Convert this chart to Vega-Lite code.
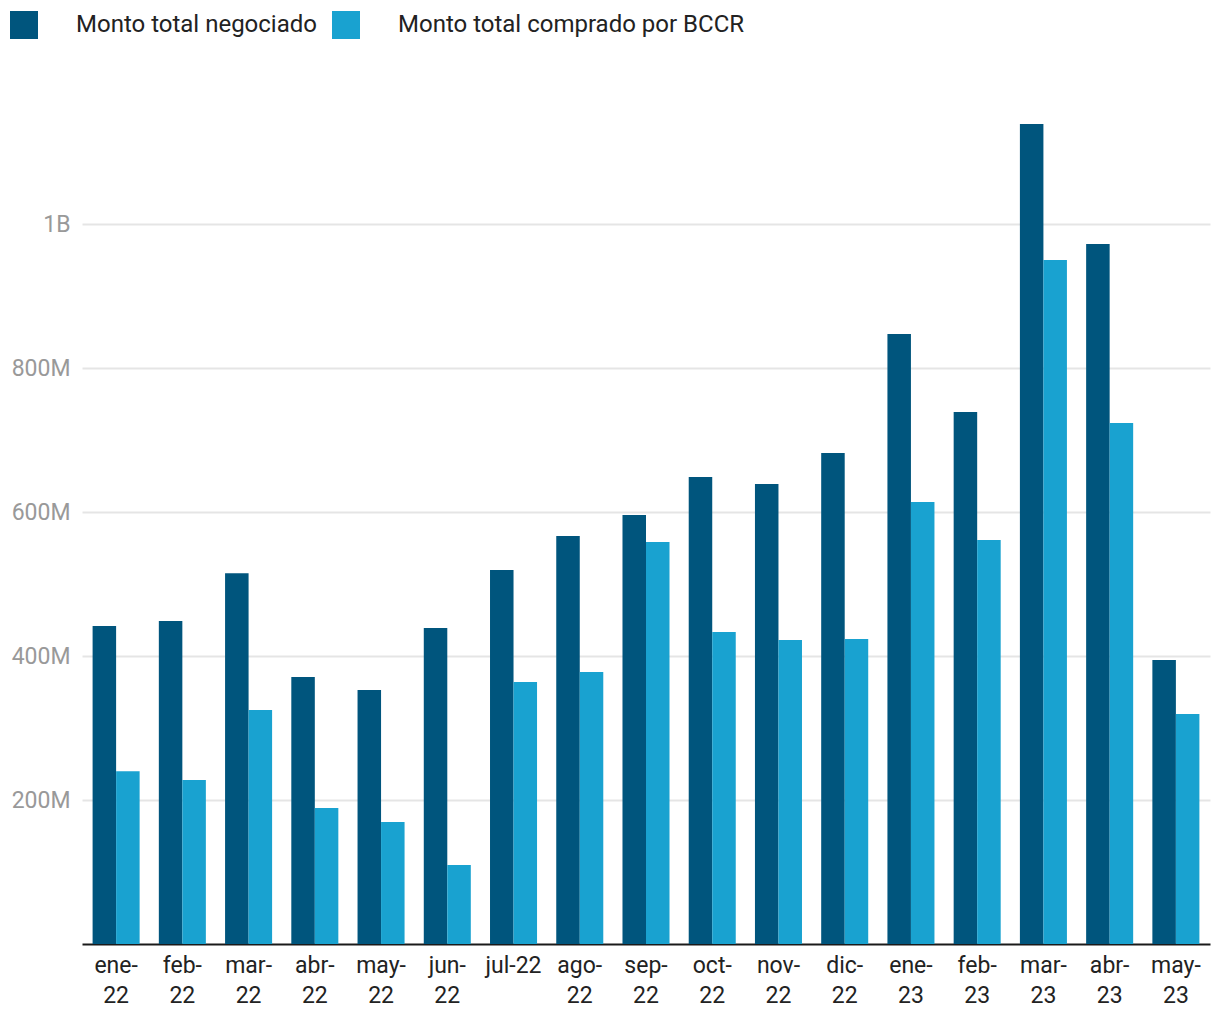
{
  "$schema": "https://vega.github.io/schema/vega-lite/v6.json",
  "width": 1128,
  "height": 864,
  "autosize": {"type": "none"},
  "padding": {"left": 82, "top": 80, "right": 10, "bottom": 76},
  "background": "white",
  "config": {"font": "Roboto", "view": {"stroke": null}},
  "data": {"values": [
    {"mes": "ene-22", "serie": "Monto total negociado", "monto": 441700000},
    {"mes": "ene-22", "serie": "Monto total comprado por BCCR", "monto": 240000000},
    {"mes": "feb-22", "serie": "Monto total negociado", "monto": 448600000},
    {"mes": "feb-22", "serie": "Monto total comprado por BCCR", "monto": 227800000},
    {"mes": "mar-22", "serie": "Monto total negociado", "monto": 515000000},
    {"mes": "mar-22", "serie": "Monto total comprado por BCCR", "monto": 325000000},
    {"mes": "abr-22", "serie": "Monto total negociado", "monto": 370800000},
    {"mes": "abr-22", "serie": "Monto total comprado por BCCR", "monto": 189000000},
    {"mes": "may-22", "serie": "Monto total negociado", "monto": 352800000},
    {"mes": "may-22", "serie": "Monto total comprado por BCCR", "monto": 169400000},
    {"mes": "jun-22", "serie": "Monto total negociado", "monto": 438900000},
    {"mes": "jun-22", "serie": "Monto total comprado por BCCR", "monto": 109700000},
    {"mes": "jul-22", "serie": "Monto total negociado", "monto": 519400000},
    {"mes": "jul-22", "serie": "Monto total comprado por BCCR", "monto": 363900000},
    {"mes": "ago-22", "serie": "Monto total negociado", "monto": 566700000},
    {"mes": "ago-22", "serie": "Monto total comprado por BCCR", "monto": 377800000},
    {"mes": "sep-22", "serie": "Monto total negociado", "monto": 595800000},
    {"mes": "sep-22", "serie": "Monto total comprado por BCCR", "monto": 558300000},
    {"mes": "oct-22", "serie": "Monto total negociado", "monto": 648600000},
    {"mes": "oct-22", "serie": "Monto total comprado por BCCR", "monto": 433300000},
    {"mes": "nov-22", "serie": "Monto total negociado", "monto": 638900000},
    {"mes": "nov-22", "serie": "Monto total comprado por BCCR", "monto": 422200000},
    {"mes": "dic-22", "serie": "Monto total negociado", "monto": 681900000},
    {"mes": "dic-22", "serie": "Monto total comprado por BCCR", "monto": 423600000},
    {"mes": "ene-23", "serie": "Monto total negociado", "monto": 847200000},
    {"mes": "ene-23", "serie": "Monto total comprado por BCCR", "monto": 613900000},
    {"mes": "feb-23", "serie": "Monto total negociado", "monto": 738900000},
    {"mes": "feb-23", "serie": "Monto total comprado por BCCR", "monto": 561100000},
    {"mes": "mar-23", "serie": "Monto total negociado", "monto": 1138900000},
    {"mes": "mar-23", "serie": "Monto total comprado por BCCR", "monto": 950000000},
    {"mes": "abr-23", "serie": "Monto total negociado", "monto": 972200000},
    {"mes": "abr-23", "serie": "Monto total comprado por BCCR", "monto": 723600000},
    {"mes": "may-23", "serie": "Monto total negociado", "monto": 394400000},
    {"mes": "may-23", "serie": "Monto total comprado por BCCR", "monto": 319400000}
  ]},
  "mark": {"type": "bar"},
  "encoding": {
    "x": {
      "field": "mes",
      "type": "nominal",
      "sort": null,
      "scale": {"paddingInner": 0.29, "paddingOuter": 0.16},
      "axis": {
        "title": null,
        "labelAngle": 0,
        "labelFontSize": 23,
        "labelColor": "#222222",
        "labelLineHeight": 30,
        "labelPadding": 10,
        "labelBaseline": "top",
        "ticks": false,
        "domainColor": "#1a1a1a",
        "domainWidth": 2,
        "labelExpr": "datum.label == 'jul-22' ? datum.label : [split(datum.label, '-')[0] + '-', split(datum.label, '-')[1]]"
      }
    },
    "xOffset": {
      "field": "serie",
      "type": "nominal",
      "sort": ["Monto total negociado", "Monto total comprado por BCCR"],
      "scale": {"paddingInner": 0, "paddingOuter": 0}
    },
    "y": {
      "field": "monto",
      "type": "quantitative",
      "scale": {"domain": [0, 1200000000], "nice": false},
      "axis": {
        "title": null,
        "values": [200000000, 400000000, 600000000, 800000000, 1000000000],
        "labelExpr": "datum.value >= 1e9 ? (datum.value / 1e9) + 'B' : (datum.value / 1e6) + 'M'",
        "labelFontSize": 23,
        "labelColor": "#999999",
        "labelPadding": 12,
        "ticks": false,
        "domain": false,
        "gridColor": "#e5e5e5",
        "gridWidth": 2
      }
    },
    "color": {
      "field": "serie",
      "type": "nominal",
      "sort": ["Monto total negociado", "Monto total comprado por BCCR"],
      "scale": {"domain": ["Monto total negociado", "Monto total comprado por BCCR"], "range": ["#00557d", "#19a2d0"]},
      "legend": {
        "title": null,
        "orient": "none",
        "direction": "horizontal",
        "legendX": -72,
        "legendY": -69,
        "symbolType": "square",
        "symbolSize": 784,
        "symbolStrokeWidth": 0,
        "symbolOpacity": 1,
        "labelFontSize": 24,
        "labelColor": "#222222",
        "labelOffset": 38,
        "columnPadding": 15,
        "labelLimit": 500
      }
    }
  }
}
